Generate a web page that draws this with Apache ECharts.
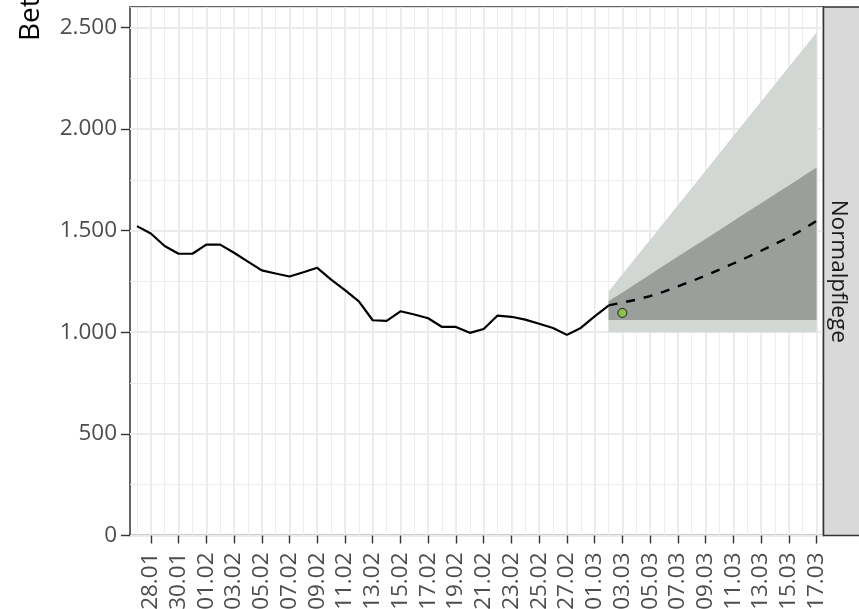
<!DOCTYPE html>
<html>
<head>
<meta charset="utf-8">
<script src="https://cdn.jsdelivr.net/npm/echarts@6/dist/echarts.min.js"></script>
<style>
  html, body { margin: 0; padding: 0; background: #ffffff; }
  #chart { width: 859px; height: 609px; }
</style>
</head>
<body>
<div id="chart"></div>
<script>
// Days shown on the time axis (one category per day)
const dates = [
  '27.01','28.01','29.01','30.01','31.01',
  '01.02','02.02','03.02','04.02','05.02','06.02','07.02','08.02','09.02','10.02',
  '11.02','12.02','13.02','14.02','15.02','16.02','17.02','18.02','19.02','20.02',
  '21.02','22.02','23.02','24.02','25.02','26.02','27.02','28.02',
  '01.03','02.03','03.03','04.03','05.03','06.03','07.03','08.03','09.03','10.03',
  '11.03','12.03','13.03','14.03','15.03','16.03','17.03'
];

// Occupied beds, observed (27.01 – 02.03)
const observed = [
  1522, 1486, 1424, 1386, 1386, 1431, 1431, 1391, 1347, 1304,
  1289, 1274, 1295, 1317, 1259, 1207, 1152, 1059, 1056, 1103,
  1087, 1069, 1026, 1026, 997, 1016, 1082, 1076, 1062, 1042,
  1021, 987, 1021, 1078, 1131
];

// Forecast (02.03 – 17.03)
const forecastStart = '02.03';
const forecastMedian = [1132, 1146, 1160, 1178, 1200, 1226, 1251, 1279, 1308, 1338, 1369, 1401, 1434, 1467, 1505, 1548];
const outerLow  = [1000, 1000, 1000, 1000, 1000, 1000, 1000, 1000, 1000, 1000, 1000, 1000, 1000, 1000, 1000, 1000];
const outerHigh = [1200, 1285, 1370, 1455, 1540, 1625, 1710, 1795, 1880, 1965, 2050, 2135, 2220, 2305, 2390, 2475];
const innerLow  = [1060, 1060, 1060, 1060, 1060, 1060, 1060, 1060, 1060, 1060, 1060, 1060, 1060, 1060, 1060, 1060];
const innerHigh = [1152, 1196, 1240, 1284, 1328, 1372, 1415, 1459, 1503, 1547, 1591, 1635, 1679, 1722, 1766, 1810];

// Single reported value
const reportedDate = '03.03';
const reportedValue = 1095;

// Axis ticks
const yTicks = [0, 500, 1000, 1500, 2000, 2500];
const yMax = 2600;

const facetLabel = 'Normalpflege';
const yTitle = 'Betten';

// ---- helpers ---------------------------------------------------------
function placeOnDates(values, startDate) {
  const start = dates.indexOf(startDate);
  return dates.map((_, i) => {
    const k = i - start;
    return (k >= 0 && k < values.length) ? values[k] : null;
  });
}
function spanOf(high, low) {
  return high.map((v, i) => v - low[i]);
}
function fmtDe(v) {
  return String(v).replace(/\B(?=(\d{3})+(?!\d))/g, '.');
}

const FONT = '"Open Sans", "Noto Sans", sans-serif';
const GRID = { left: 130, top: 7, width: 693.5, height: 528.5 };
const gridColor = '#ebebeb';
const tickFont = 22.5;

const bandSeries = (name, stack, data, color) => ({
  name, type: 'line', stack, data,
  symbol: 'none', silent: true,
  lineStyle: { width: 0, opacity: 0 },
  areaStyle: color ? { color, opacity: 1 } : undefined,
  z: 1
});

const chart = echarts.init(document.getElementById('chart'), null, { renderer: 'canvas' });

chart.setOption({
  animation: false,
  backgroundColor: '#ffffff',
  textStyle: { fontFamily: FONT },
  grid: Object.assign({
    show: true, backgroundColor: '#ffffff',
    borderColor: '#333333', borderWidth: 1.5,
    containLabel: false, outerBoundsMode: 'none'
  }, GRID),
  xAxis: [
    {
      type: 'category', data: dates, boundaryGap: true,
      axisLine: { show: false },
      axisTick: {
        show: true, alignWithLabel: true, length: 8,
        interval: (i) => i % 2 === 1,
        lineStyle: { color: '#333333', width: 1.4 }
      },
      axisLabel: {
        show: true, rotate: 90, margin: 17,
        interval: (i) => i % 2 === 1,
        color: '#4d4d4d', fontSize: tickFont, fontFamily: FONT
      },
      splitLine: {
        show: true, alignWithLabel: true,
        interval: (i) => i % 2 === 1,
        lineStyle: { color: gridColor, width: 1.8 }
      }
    },
    {
      type: 'category', data: dates, boundaryGap: true,
      axisLine: { show: false }, axisTick: { show: false }, axisLabel: { show: false },
      splitLine: {
        show: true, alignWithLabel: true, interval: 0,
        lineStyle: { color: gridColor, width: 0.9 }
      }
    }
  ],
  yAxis: [
    {
      type: 'value', min: 0, max: yMax, interval: 500,
      axisLine: { show: false },
      axisTick: {
        show: true, length: 9, customValues: yTicks,
        lineStyle: { color: '#333333', width: 1.4 }
      },
      axisLabel: {
        show: true, margin: 13, customValues: yTicks,
        formatter: (v) => fmtDe(v),
        color: '#4d4d4d', fontSize: tickFont, fontFamily: FONT
      },
      splitLine: { show: true, lineStyle: { color: gridColor, width: 1.8 } }
    },
    {
      type: 'value', min: 0, max: yMax, interval: 250,
      axisLine: { show: false }, axisTick: { show: false }, axisLabel: { show: false },
      splitLine: { show: true, lineStyle: { color: gridColor, width: 0.9 } }
    }
  ],
  series: [
    bandSeries('outerBase', 'outer', placeOnDates(outerLow, forecastStart), null),
    bandSeries('outerSpan', 'outer', placeOnDates(spanOf(outerHigh, outerLow), forecastStart), '#d3d7d4'),
    bandSeries('innerBase', 'inner', placeOnDates(innerLow, forecastStart), null),
    bandSeries('innerSpan', 'inner', placeOnDates(spanOf(innerHigh, innerLow), forecastStart), '#9b9f9c'),
    {
      name: 'observed', type: 'line',
      data: placeOnDates(observed, dates[0]),
      symbol: 'none', silent: true, z: 3,
      lineStyle: { color: '#000000', width: 2.2, join: 'round' }
    },
    {
      name: 'forecast', type: 'line',
      data: placeOnDates(forecastMedian, forecastStart),
      symbol: 'none', silent: true, z: 3,
      lineStyle: { color: '#000000', width: 2.4, type: [9, 9], cap: 'butt' }
    },
    {
      name: 'reported', type: 'scatter',
      data: [[reportedDate, reportedValue]],
      symbol: 'circle', symbolSize: 9, z: 4, silent: true,
      itemStyle: { color: '#8cc63f', borderColor: '#000000', borderWidth: 1 }
    }
  ],
  graphic: [
    {
      type: 'text', x: 31, y: 41, rotation: Math.PI / 2,
      style: {
        text: yTitle, fill: '#000000',
        font: '28px ' + FONT, align: 'left', verticalAlign: 'middle'
      }
    },
    {
      type: 'rect', z: 10,
      shape: { x: GRID.left + GRID.width, y: GRID.top, width: 60, height: GRID.height },
      style: { fill: '#d9d9d9', stroke: '#333333', lineWidth: 1.5 }
    },
    {
      type: 'text', z: 11,
      x: 838, y: GRID.top + GRID.height / 2, rotation: -Math.PI / 2,
      style: {
        text: facetLabel, fill: '#1a1a1a',
        font: '22.5px ' + FONT, align: 'center', verticalAlign: 'middle'
      }
    }
  ]
});
</script>
</body>
</html>
